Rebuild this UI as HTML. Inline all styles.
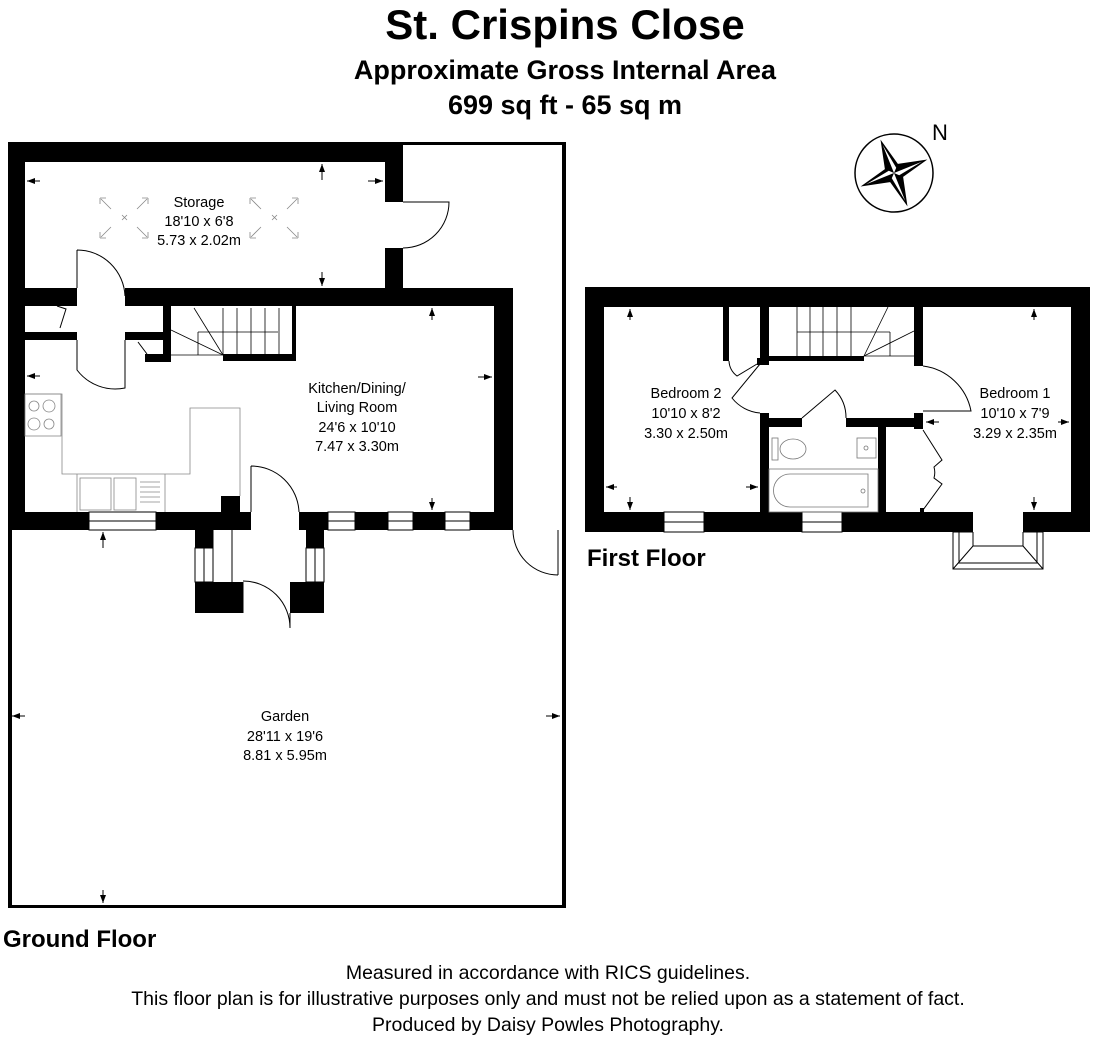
<!DOCTYPE html>
<html><head><meta charset="utf-8"><style>
html,body{margin:0;padding:0;background:#fff;}
svg{display:block;font-family:"Liberation Sans",sans-serif;}
</style></head><body>
<svg width="1096" height="1040" viewBox="0 0 1096 1040" xmlns="http://www.w3.org/2000/svg">
<defs>
<marker id="ar" markerWidth="8" markerHeight="6" refX="8" refY="3" orient="auto"><path d="M0,0 L8,3 L0,6z" fill="#000"/></marker>
</defs>
<text x="565" y="39" font-size="42" font-weight="bold" text-anchor="middle">St. Crispins Close</text>
<text x="565" y="79" font-size="27" font-weight="bold" text-anchor="middle">Approximate Gross Internal Area</text>
<text x="565" y="114" font-size="27" font-weight="bold" text-anchor="middle">699 sq ft - 65 sq m</text>

<g transform="translate(894,173)">
<circle r="39" fill="none" stroke="#000" stroke-width="1.5"/>
<g transform="rotate(-22)">
<polygon points="0,-36 7,-7 36,0 7,7 0,36 -7,7 -36,0 -7,-7" fill="#000"/>
<polygon points="0,-30 4,-4 0,0" fill="#fff"/><polygon points="30,0 4,4 0,0" fill="#fff"/>
<polygon points="0,30 -4,4 0,0" fill="#fff"/><polygon points="-30,0 -4,-4 0,0" fill="#fff"/>
</g>
</g>
<text x="932" y="140" font-size="22">N</text>

<g fill="#000">
<rect x="8" y="142" width="395" height="20"/>
<rect x="8" y="142" width="17" height="388"/>
<rect x="403" y="142" width="163" height="3"/>
<rect x="562" y="142" width="4" height="766"/>
<rect x="385" y="142" width="18" height="60"/>
<rect x="385" y="248" width="18" height="58"/>
<rect x="25" y="288" width="52" height="18"/>
<rect x="125" y="288" width="388" height="18"/>
<rect x="494" y="288" width="19" height="242"/>
<rect x="25" y="332" width="52" height="8"/>
<rect x="125" y="332" width="46" height="8"/>
<rect x="163" y="306" width="8" height="56"/>
<rect x="145" y="354" width="26" height="8"/>
<rect x="223" y="354" width="73" height="7"/>
<rect x="292" y="306" width="4" height="55"/>
<rect x="8" y="512" width="81" height="18"/>
<rect x="156" y="512" width="95" height="18"/>
<rect x="221" y="496" width="19" height="16"/>
<rect x="299" y="512" width="29" height="18"/>
<rect x="355" y="512" width="33" height="18"/>
<rect x="413" y="512" width="32" height="18"/>
<rect x="470" y="512" width="43" height="18"/>
<rect x="195" y="530" width="18" height="18"/>
<rect x="195" y="582" width="48" height="31"/>
<rect x="306" y="530" width="18" height="18"/>
<rect x="290" y="582" width="34" height="31"/>
<rect x="8" y="530" width="4" height="378"/>
<rect x="8" y="905" width="558" height="3"/>
</g>
<g fill="none" stroke="#000" stroke-width="1">
<rect x="89" y="512" width="67" height="18"/><line x1="89" y1="521" x2="156" y2="521"/>
<rect x="328" y="512" width="27" height="18"/><line x1="328" y1="521" x2="355" y2="521"/>
<rect x="388" y="512" width="25" height="18"/><line x1="388" y1="521" x2="413" y2="521"/>
<rect x="445" y="512" width="25" height="18"/><line x1="445" y1="521" x2="470" y2="521"/>
<rect x="195" y="548" width="18" height="34"/><line x1="204" y1="548" x2="204" y2="582"/>
<rect x="306" y="548" width="18" height="34"/><line x1="315" y1="548" x2="315" y2="582"/>
<line x1="213" y1="530" x2="213" y2="582"/><line x1="232" y1="530" x2="232" y2="613"/>
<line x1="243" y1="582" x2="243" y2="613"/>
<path d="M403,202 L449,202 A46,46 0 0 1 403,248"/>
<path d="M77,250 L77,288 M77,250 A48,48 0 0 1 125,296"/>
<path d="M77,340 L77,370 A48,48 0 0 0 125,388 L125,340"/>
<path d="M251,466 L251,512 M251,466 A48,48 0 0 1 299,512"/>
<path d="M243,581 A47,47 0 0 1 290,628 L290,613"/>
<path d="M513,530 A45,45 0 0 0 558,575 M558,530 L558,575"/>
<path d="M57,306 L66,309 L60,328"/>
<path d="M138,342 L147,354"/>
<g stroke-width="0.8">
<line x1="223" y1="308" x2="223" y2="354"/><line x1="237" y1="308" x2="237" y2="354"/>
<line x1="251" y1="308" x2="251" y2="354"/><line x1="265" y1="308" x2="265" y2="354"/><line x1="279" y1="308" x2="279" y2="354"/>
<line x1="198" y1="332" x2="278" y2="332"/><line x1="198" y1="332" x2="198" y2="355"/>
<line x1="194" y1="308" x2="223" y2="355"/><line x1="171" y1="330" x2="223" y2="355"/>
<line x1="171" y1="355" x2="223" y2="355"/>
</g>
<g stroke="#888" stroke-width="0.8">
<path d="M25,394 L62,394 L62,474 L190,474 L190,408 L240,408 L240,496"/>
<rect x="25" y="394" width="36" height="42"/>
<circle cx="34" cy="406" r="5"/><circle cx="49" cy="406" r="6"/><circle cx="34" cy="424" r="6"/><circle cx="49" cy="424" r="5"/>
<path d="M77,474 L77,512 M165,474 L165,512"/>
<rect x="80" y="478" width="31" height="32"/><rect x="114" y="478" width="22" height="32"/>
<path d="M140,482 h20 M140,487 h20 M140,492 h20 M140,497 h20 M140,502 h20"/>
<path d="M100,198 h6 M100,198 v6 M100,238 v-6 M100,238 h6 M148,198 h-6 M148,198 v6 M148,238 v-6 M148,238 h-6 M101,199 l10,10 M147,199 l-10,10 M101,237 l10,-10 M147,237 l-10,-10 M122,215 l5,5 M127,215 l-5,5"/>
<path d="M250,198 h6 M250,198 v6 M250,238 v-6 M250,238 h6 M298,198 h-6 M298,198 v6 M298,238 v-6 M298,238 h-6 M251,199 l10,10 M297,199 l-10,10 M251,237 l10,-10 M297,237 l-10,-10 M272,215 l5,5 M277,215 l-5,5"/>
</g>
</g>
<g stroke="#000" stroke-width="1" marker-end="url(#ar)">
<line x1="40" y1="181" x2="27" y2="181"/><line x1="368" y1="181" x2="383" y2="181"/>
<line x1="322" y1="180" x2="322" y2="164"/><line x1="322" y1="272" x2="322" y2="286"/>
<line x1="40" y1="376" x2="27" y2="376"/><line x1="478" y1="377" x2="492" y2="377"/>
<line x1="432" y1="320" x2="432" y2="308"/><line x1="432" y1="498" x2="432" y2="510"/>
<line x1="103" y1="548" x2="103" y2="532"/>
<line x1="25" y1="716" x2="12" y2="716"/><line x1="546" y1="716" x2="560" y2="716"/>
<line x1="103" y1="890" x2="103" y2="903"/>
</g>
<g font-size="14.5" text-anchor="middle">
<text x="199" y="207">Storage</text><text x="199" y="226">18'10 x 6'8</text><text x="199" y="245">5.73 x 2.02m</text>
<text x="357" y="393">Kitchen/Dining/</text><text x="357" y="412">Living Room</text><text x="357" y="432">24'6 x 10'10</text><text x="357" y="451">7.47 x 3.30m</text>
<text x="285" y="721">Garden</text><text x="285" y="741">28'11 x 19'6</text><text x="285" y="760">8.81 x 5.95m</text>
<text x="686" y="398">Bedroom 2</text><text x="686" y="418">10'10 x 8'2</text><text x="686" y="438">3.30 x 2.50m</text>
<text x="1015" y="398">Bedroom 1</text><text x="1015" y="418">10'10 x 7'9</text><text x="1015" y="438">3.29 x 2.35m</text>
</g>

<g fill="#000">
<rect x="585" y="287" width="505" height="20"/>
<rect x="585" y="287" width="19" height="245"/>
<rect x="1071" y="287" width="19" height="245"/>
<rect x="585" y="512" width="79" height="20"/>
<rect x="704" y="512" width="98" height="20"/>
<rect x="842" y="512" width="131" height="20"/>
<rect x="1023" y="512" width="67" height="20"/>
<rect x="723" y="307" width="6" height="54"/>
<rect x="760" y="307" width="9" height="58"/>
<rect x="757" y="358" width="12" height="7"/>
<rect x="769" y="356" width="95" height="5"/>
<rect x="914" y="307" width="9" height="59"/>
<rect x="760" y="413" width="9" height="99"/>
<rect x="760" y="418" width="42" height="9"/>
<rect x="846" y="418" width="77" height="9"/>
<rect x="878" y="427" width="8" height="85"/>
<rect x="914" y="413" width="9" height="16"/>
<rect x="920" y="508" width="4" height="4"/>
</g>
<g fill="none" stroke="#000" stroke-width="1">
<rect x="664" y="512" width="40" height="20"/><line x1="664" y1="522" x2="704" y2="522"/>
<rect x="802" y="512" width="40" height="20"/><line x1="802" y1="522" x2="842" y2="522"/>
<path d="M973,532 L953,532 L953,569 L1043,569 L1043,532 L1023,532 M959,532 L959,563 L1037,563 L1037,532 M973,532 L973,546 L1023,546 L1023,532 M953,569 L973,546 M1043,569 L1023,546"/>
<path d="M729,361 A20,20 0 0 0 737,376 L757,364"/>
<path d="M760,364 L732,398 A40,40 0 0 0 760,413"/>
<path d="M802,418 L835,390 A40,40 0 0 1 846,418"/>
<path d="M923,366 A56,56 0 0 1 971,411 L923,411"/>
<path d="M923,430 L942,460 L934,467 A20,20 0 0 1 934,478 L942,484 L923,510"/>
<g stroke-width="0.8">
<line x1="797" y1="307" x2="797" y2="356"/><line x1="810" y1="307" x2="810" y2="356"/><line x1="823" y1="307" x2="823" y2="356"/>
<line x1="837" y1="307" x2="837" y2="356"/><line x1="851" y1="307" x2="851" y2="356"/>
<line x1="797" y1="332" x2="890" y2="332"/><line x1="890" y1="332" x2="890" y2="356"/>
<line x1="864" y1="356" x2="888" y2="307"/><line x1="864" y1="356" x2="914" y2="331"/><line x1="864" y1="356" x2="914" y2="356"/>
</g>
<g stroke="#777" stroke-width="0.8">
<rect x="769" y="469" width="109" height="43"/>
<path d="M790,474 L868,474 L868,507 L790,507 A16,16 0 0 1 790,474z"/>
<circle cx="863" cy="491" r="2"/>
<rect x="772" y="438" width="6" height="22"/><ellipse cx="793" cy="449" rx="13" ry="10"/>
<rect x="857" y="438" width="19" height="20"/><circle cx="866" cy="448" r="2"/>
</g>
</g>
<g stroke="#000" stroke-width="1" marker-end="url(#ar)">
<line x1="630" y1="320" x2="630" y2="309"/><line x1="630" y1="497" x2="630" y2="510"/>
<line x1="617" y1="487" x2="606" y2="487"/><line x1="746" y1="487" x2="758" y2="487"/>
<line x1="1034" y1="320" x2="1034" y2="309"/><line x1="1034" y1="497" x2="1034" y2="510"/>
<line x1="939" y1="422" x2="926" y2="422"/><line x1="1058" y1="422" x2="1069" y2="422"/>
</g>

<text x="587" y="566" font-size="24" font-weight="bold">First Floor</text>
<text x="3" y="947" font-size="24" font-weight="bold">Ground Floor</text>
<g font-size="19.5" text-anchor="middle">
<text x="548" y="979">Measured in accordance with RICS guidelines.</text>
<text x="548" y="1005">This floor plan is for illustrative purposes only and must not be relied upon as a statement of fact.</text>
<text x="548" y="1031">Produced by Daisy Powles Photography.</text>
</g>
</svg>
</body></html>
